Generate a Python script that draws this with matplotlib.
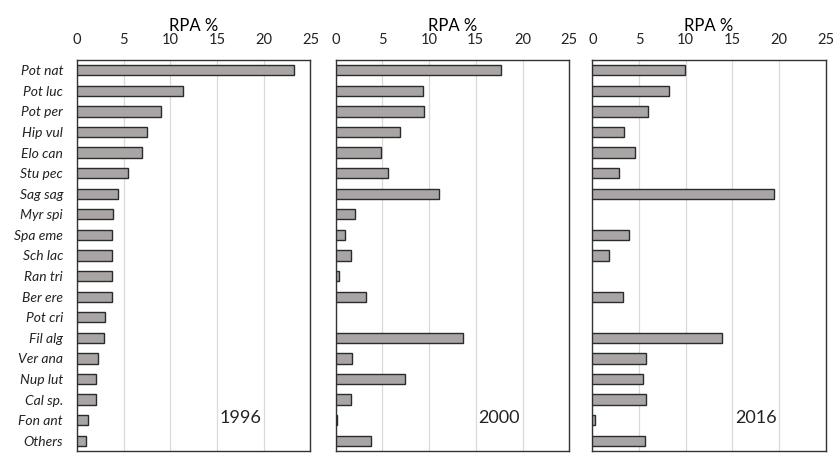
import numpy as np
import matplotlib
matplotlib.use('Agg')
import matplotlib.pyplot as plt

species = ['Pot nat', 'Pot luc', 'Pot per', 'Hip vul', 'Elo can', 'Stu pec', 'Sag sag',
           'Myr spi', 'Spa eme', 'Sch lac', 'Ran tri', 'Ber ere', 'Pot cri', 'Fil alg',
           'Ver ana', 'Nup lut', 'Cal sp.', 'Fon ant', 'Others']

rpa_1996 = [23.2, 11.3, 9.0, 7.5, 7.0, 5.5, 4.4, 3.9, 3.8, 3.8, 3.7, 3.7, 3.0, 2.9,
            2.2, 2.0, 2.0, 1.15, 1.0]
rpa_2000 = [17.7, 9.3, 9.5, 6.9, 4.9, 5.6, 11.1, 2.1, 1.0, 1.65, 0.36, 3.2, 0.0, 13.6,
            1.75, 7.4, 1.65, 0.1, 3.8]
rpa_2016 = [9.9, 8.2, 5.95, 3.4, 4.55, 2.9, 19.5, 0.0, 3.9, 1.75, 0.0, 3.3, 0.0, 13.9,
            5.7, 5.4, 5.8, 0.25, 5.6]

years = ['1996', '2000', '2016']
series = [rpa_1996, rpa_2000, rpa_2016]

BAR = '#a9a5a5'
EDGE = '#2b2b2b'
TXT = '#222222'

plt.rcParams.update({
    'font.family': ['Lato', 'DejaVu Sans'],
    'text.color': TXT,
    'xtick.color': TXT,
    'ytick.color': TXT,
})

fig = plt.figure(figsize=(8.34, 4.53), dpi=100)
W, H = 834, 453
lefts = [77, 335.7, 592.3]
width = 233.5
top, bottom = 60, 451

y = np.arange(len(species))
for i, (year, vals) in enumerate(zip(years, series)):
    ax = fig.add_axes([lefts[i] / W, 1 - bottom / H, width / W, (bottom - top) / H])
    vals = np.array(vals)
    keep = vals > 0  # empty categories get no bar at all
    ax.barh(y[keep], vals[keep], height=0.5, color=BAR, edgecolor=EDGE,
            linewidth=1.0, zorder=3)
    ax.set_xlim(0, 25)
    ax.set_ylim(len(species) - 0.5, -0.5)
    ax.set_xticks([0, 5, 10, 15, 20, 25])
    ax.xaxis.tick_top()
    ax.xaxis.set_label_position('top')
    ax.set_xlabel('RPA %', fontsize=12, labelpad=2)
    ax.tick_params(axis='x', length=0, labelsize=10.5, pad=9)
    ax.grid(axis='x', color='#d9d9d9', linewidth=0.9, zorder=0)
    ax.set_yticks(y)
    if i == 0:
        ax.set_yticklabels(species, fontsize=10, style='italic')
    else:
        ax.set_yticklabels([])
    ax.tick_params(axis='y', length=0, pad=10)
    for s in ax.spines.values():
        s.set_color('#333333')
        s.set_linewidth(1.0)
    ax.text(0.70, 0.085, year, transform=ax.transAxes, fontsize=13,
            ha='center', va='center', color=TXT)

fig.savefig('out.png', dpi=100)
